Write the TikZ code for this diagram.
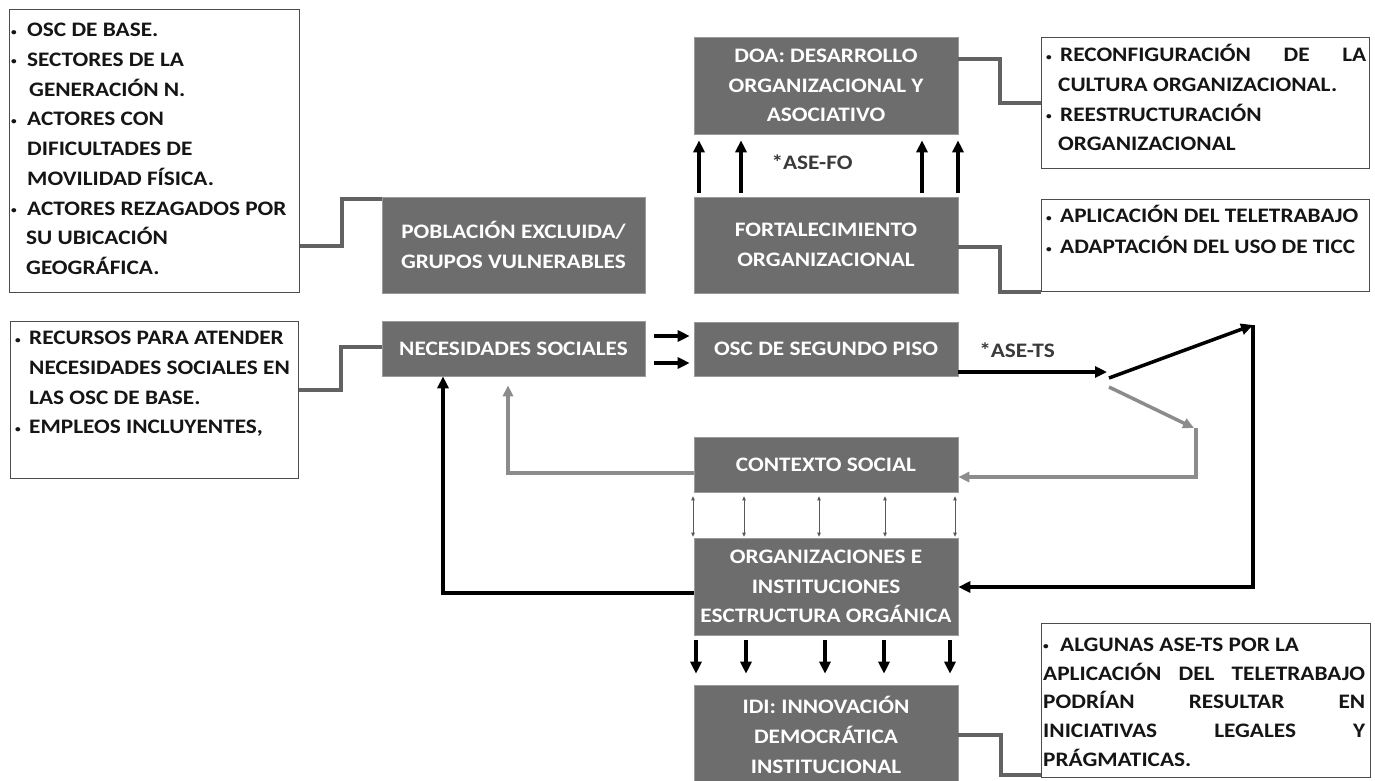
\documentclass[tikz,border=0pt]{standalone}
\usepackage{fontspec}
\setmainfont{Carlito}[FakeStretch=1.13]
\usetikzlibrary{arrows.meta,calc}
\definecolor{boxgray}{HTML}{6D6D6D}
\definecolor{boxedge}{HTML}{9A9A9A}
\definecolor{linkgray}{HTML}{626262}
\definecolor{fbgray}{HTML}{8C8C8C}
\definecolor{txtdark}{HTML}{151515}
\definecolor{lbldark}{HTML}{3A3A3A}
\newcommand\bu[1]{\makebox[#1][l]{\raisebox{1.5pt}{\fontsize{10}{10}\selectfont\textbullet}}}
\begin{document}
\begin{tikzpicture}[x=1pt,y=-1pt,
  font=\fontsize{20.6}{29.75}\selectfont\bfseries,
  gbox/.style={fill=boxgray, draw=boxedge, line width=0.6pt, text=white, align=center, inner sep=0pt},
  wbox/.style={draw=black!70, line width=0.9pt, fill=white, inner sep=0pt, anchor=north west},
  wtxt/.style={anchor=north west, inner sep=0pt, align=left, text=txtdark},
  link/.style={draw=linkgray, line width=4pt},
  blk/.style={draw=black, line width=3.5pt, -{Triangle[length=12pt,width=11pt]}},
  fb/.style={draw=fbgray, line width=3.5pt, -{Triangle[length=11pt,width=10pt]}},
  dbl/.style={draw=black!65, line width=0.8pt, {Triangle[length=4pt,width=3.5pt]}-{Triangle[length=4pt,width=3.5pt]}},
  lbl/.style={text=lbldark, inner sep=0pt}]
\fill[white] (0,0) rectangle (1375,780);
\useasboundingbox (0,0) rectangle (1375,780);

% gray boxes
\node[gbox, minimum width=264pt, minimum height=97pt] (doa) at (826,85.5) {DOA: DESARROLLO\\ORGANIZACIONAL Y\\ASOCIATIVO};
\node[gbox, minimum width=264pt, minimum height=96pt] (fort) at (826,245) {FORTALECIMIENTO\\ORGANIZACIONAL};
\node[gbox, minimum width=263pt, minimum height=96pt] (pob) at (513.5,245) {POBLACIÓN EXCLUIDA/\\GRUPOS VULNERABLES};
\node[gbox, minimum width=263pt, minimum height=55pt] (nec) at (513.5,348.5) {NECESIDADES SOCIALES};
\node[gbox, minimum width=264pt, minimum height=54pt] (osc) at (826,349) {OSC DE SEGUNDO PISO};
\node[gbox, minimum width=264pt, minimum height=55pt] (ctx) at (826,464.5) {CONTEXTO SOCIAL};
\node[gbox, minimum width=264pt, minimum height=97pt] (org) at (826,586.5) {ORGANIZACIONES E\\INSTITUCIONES\\ESCTRUCTURA ORGÁNICA};
\node[gbox, minimum width=264pt, minimum height=100pt] (idi) at (826,735) {IDI: INNOVACIÓN\\DEMOCRÁTICA\\INSTITUCIONAL};

% white boxes
\node[wbox, minimum width=290pt, minimum height=283pt] (l1) at (9,9) {};
\node[wtxt] (l1t) at (11,15.5) {\strut\bu{16pt}OSC DE BASE.\\
\bu{16pt}SECTORES DE LA\\
\hspace*{18pt}GENERACIÓN N.\\
\bu{16pt}ACTORES CON\\
\hspace*{16pt}DIFICULTADES DE\\
\hspace*{16pt}MOVILIDAD FÍSICA.\\
\bu{16pt}ACTORES REZAGADOS POR\\
\hspace*{15pt}SU UBICACIÓN\\
\hspace*{15pt}GEOGRÁFICA.};

\node[wbox, minimum width=288pt, minimum height=157pt] (l2) at (10,321) {};
\node[wtxt] (l2t) at (15,323.5) {\strut\bu{14pt}RECURSOS PARA ATENDER\\
\hspace*{14pt}NECESIDADES SOCIALES EN\\
\hspace*{14pt}LAS OSC DE BASE.\\
\bu{14pt}EMPLEOS INCLUYENTES,};

\node[wbox, minimum width=328pt, minimum height=131pt] (r1) at (1041,37) {};
\node[wtxt] (r1t) at (1046,40.5) {\strut\bu{14pt}\makebox[306pt][s]{RECONFIGURACIÓN DE LA}\\
\hspace*{12pt}CULTURA ORGANIZACIONAL.\\
\bu{14pt}REESTRUCTURACIÓN\\
\hspace*{12pt}ORGANIZACIONAL};

\node[wbox, minimum width=328pt, minimum height=92pt] (r2) at (1041,199) {};
\node[wtxt, font=\fontsize{20.6}{31}\selectfont\bfseries] (r2t) at (1046,201) {\strut\bu{14pt}APLICACIÓN DEL TELETRABAJO\\
\bu{14pt}ADAPTACIÓN DEL USO DE TICC};

\node[wbox, minimum width=329pt, minimum height=154pt] (r3) at (1041,623) {};
\node[wtxt, font=\fontsize{20.6}{28.75}\selectfont\bfseries] (r3t) at (1043,631) {\strut\bu{17pt}ALGUNAS ASE-TS POR LA\\
\makebox[322pt][s]{APLICACIÓN DEL TELETRABAJO}\\
\makebox[322pt][s]{PODRÍAN RESULTAR EN}\\
\makebox[322pt][s]{INICIATIVAS LEGALES Y}\\
PRÁGMATICAS.};

% labels
\node[lbl] (asefo) at (812,162) {*ASE-FO};
\node[lbl] (asets) at (1017,350) {*ASE-TS};

% gray links
\draw[link] (l1.east |- 0,246) -- (342,246) -- (342,199) -- (pob.west |- 0,199);
\draw[link] (l2.east |- 0,390) -- (341,390) -- (341,347) -- (nec.west |- 0,347);
\draw[link] (doa.east |- 0,59) -- (1000,59) -- (1000,103) -- (r1.west |- 0,103);
\draw[link] (fort.east |- 0,247) -- (1000,247) -- (1000,292) -- (r2.west |- 0,292);
\draw[link] (idi.east |- 0,735) -- (1001,735) -- (1001,775) -- (r3.west |- 0,775);

% up arrows FORT -> DOA
\foreach \x in {699,741,922,958}
  \draw[blk, shorten <=4pt, shorten >=6pt] (fort.north -| \x,0) -- (doa.south -| \x,0);

% NEC -> OSC
\foreach \y in {336,363}
  \draw[blk, shorten <=9pt, shorten >=4pt] (nec.east |- 0,\y) -- (osc.west |- 0,\y);

% OSC -> split
\coordinate (split) at (1107,372);
\coordinate (s1) at (1109,378);
\coordinate (s2) at (1109,387);
\coordinate (bk) at (1253,325);
\coordinate (gr) at (1194,428);
\draw[blk] (osc.east |- 0,372) -- (split);
\draw[blk] (s1) -- (bk);
\draw[fb] (s2) -- (gr);
\draw[blk] (bk) -- (1253,587) -- (org.east |- 0,587);
\draw[fb] (1196,428) -- (1196,477) -- (ctx.east |- 0,477);

% feedback to NEC
\draw[fb, shorten >=9pt] (ctx.west |- 0,473) -| (nec.south -| 508,0);
\draw[blk] (org.west |- 0,593) -| (nec.south -| 443,0);

% CTX <-> ORG
\foreach \x in {693,744,819,885,955}
  \draw[dbl, shorten <=4pt, shorten >=1pt] (ctx.south -| \x,0) -- (org.north -| \x,0);

% ORG -> IDI
\foreach \x in {696,746,825,884,950}
  \draw[blk, shorten <=5pt, shorten >=11pt] (org.south -| \x,0) -- (idi.north -| \x,0);
\end{tikzpicture}
\end{document}
